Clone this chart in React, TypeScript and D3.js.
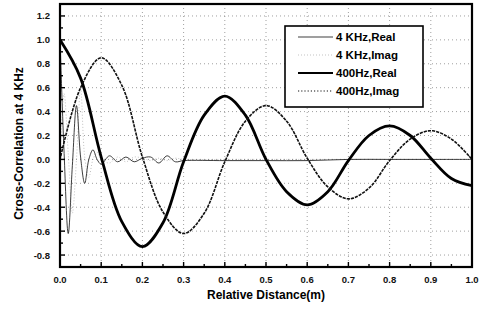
import React from "react";
import * as d3 from "d3";

// 400 Hz curves, read at 0.05 m steps
const dist400 = [0, 0.05, 0.1, 0.15, 0.2, 0.25, 0.3, 0.35, 0.4, 0.45, 0.5, 0.55, 0.6, 0.65, 0.7, 0.75, 0.8, 0.85, 0.9, 0.95, 1.0];
const real400 = [1.0, 0.68, 0.02, -0.52, -0.73, -0.53, -0.02, 0.37, 0.53, 0.37, 0.0, -0.27, -0.38, -0.27, -0.01, 0.2, 0.28, 0.2, 0.01, -0.16, -0.22];
const imag400 = [0.0, 0.6, 0.85, 0.62, 0.02, -0.44, -0.62, -0.45, -0.02, 0.32, 0.45, 0.32, 0.01, -0.23, -0.33, -0.24, -0.01, 0.17, 0.24, 0.17, 0.0];

// 4 KHz curves, fast decaying ripple near the origin
const dist4k = [0, 0.01, 0.02, 0.03, 0.04, 0.05, 0.06, 0.07, 0.08, 0.09, 0.1, 0.12, 0.14, 0.16, 0.18, 0.2, 0.22, 0.24, 0.26, 0.28, 0.3, 0.4, 0.5, 0.6, 0.7, 0.8, 0.9, 1.0];
const real4k = [1.0, 0.05, -0.62, -0.05, 0.45, 0.02, -0.2, 0.0, 0.08, 0.0, -0.04, 0.03, -0.02, 0.02, -0.02, 0.01, 0.02, -0.03, 0.03, -0.02, -0.01, -0.01, -0.01, -0.01, 0.0, 0.0, 0.0, 0.0];
const imag4k = [0.0, 0.55, 0.05, -0.45, 0.0, 0.6, 0.02, -0.15, 0.0, 0.06, 0.0, -0.03, 0.02, -0.02, 0.02, 0.01, -0.01, 0.01, -0.01, 0.01, 0.0, 0.0, 0.0, 0.0, 0.0, 0.0, 0.0, 0.0];

const xTicks = [0, 0.1, 0.2, 0.3, 0.4, 0.5, 0.6, 0.7, 0.8, 0.9, 1.0];
const yTicks = [-0.8, -0.6, -0.4, -0.2, 0.0, 0.2, 0.4, 0.6, 0.8, 1.0, 1.2];
const legendLabels = ["4 KHz,Real", "4 KHz,Imag", "400Hz,Real", "400Hz,Imag"];

const W = 481, H = 312;
const m = { left: 60, right: 9, top: 4, bottom: 45 };
const font = "'Liberation Sans', Arial, sans-serif";

export default function App() {
  const x = d3.scaleLinear().domain([0, 1]).range([m.left, W - m.right]);
  const y = d3.scaleLinear().domain([-0.9, 1.3]).range([H - m.bottom, m.top]);

  const line = d3
    .line<[number, number]>()
    .x((d) => x(d[0]))
    .y((d) => y(d[1]))
    .curve(d3.curveCatmullRom);

  const pts = (xs: number[], ys: number[]) => xs.map((v, i) => [v, ys[i]] as [number, number]);

  const styles = [
    { stroke: "#111", width: 0.9, dash: "none", opacity: 0.9 },
    { stroke: "#555", width: 0.6, dash: "1,2", opacity: 0.6 },
    { stroke: "#000", width: 2.8, dash: "none", opacity: 1 },
    { stroke: "#111", width: 1.6, dash: "1.6,2.6", opacity: 1 },
  ];

  const x0 = m.left, x1 = W - m.right, yTop = m.top, yBot = H - m.bottom;
  const minorX = d3.range(0.05, 1.0, 0.1);
  const minorY = d3.range(-0.9, 1.3, 0.2).map((v) => +v.toFixed(2));

  return (
    <svg width={W} height={H} style={{ position: "absolute", left: 0, top: 0, background: "#fff" }}>
      <rect x={0} y={0} width={W} height={H} fill="#fff" />
      {/* grid */}
      <g stroke="#777" strokeWidth={0.7} strokeDasharray="1,3">
        {xTicks.slice(1, -1).map((t) => (
          <line key={"gx" + t} x1={x(t)} x2={x(t)} y1={yTop} y2={yBot} />
        ))}
        {yTicks.map((t) => (
          <line key={"gy" + t} x1={x0} x2={x1} y1={y(t)} y2={y(t)} />
        ))}
      </g>

      {/* curves */}
      {[pts(dist4k, real4k), pts(dist4k, imag4k), pts(dist400, real400), pts(dist400, imag400)].map((d, i) => (
        <path
          key={"s" + i}
          d={line(d) || ""}
          fill="none"
          stroke={styles[i].stroke}
          strokeWidth={styles[i].width}
          strokeDasharray={styles[i].dash}
          strokeOpacity={styles[i].opacity}
          strokeLinecap={i === 3 ? "square" : "butt"}
        />
      ))}

      {/* ticks */}
      <g stroke="#000" strokeWidth={1.4}>
        {xTicks.map((t) => (
          <line key={"tx" + t} x1={x(t)} x2={x(t)} y1={yBot} y2={yBot - 5} />
        ))}
        {minorX.map((t) => (
          <line key={"mx" + t} x1={x(t)} x2={x(t)} y1={yBot} y2={yBot - 3} />
        ))}
        {yTicks.map((t) => (
          <line key={"ty" + t} x1={x0} x2={x0 + 5} y1={y(t)} y2={y(t)} />
        ))}
        {minorY.map((t) => (
          <line key={"my" + t} x1={x0} x2={x0 + 3} y1={y(t)} y2={y(t)} />
        ))}
      </g>

      {/* frame */}
      <rect x={x0} y={yTop} width={x1 - x0} height={yBot - yTop} fill="none" stroke="#000" strokeWidth={2.2} />

      {/* tick labels */}
      <g fontFamily={font} fontWeight="bold" fontSize={9.5} fill="#111">
        {xTicks.map((t) => (
          <text key={"lx" + t} x={x(t)} y={yBot + 16} textAnchor="middle">
            {d3.format(".1f")(t)}
          </text>
        ))}
        {yTicks.map((t) => (
          <text key={"ly" + t} x={x0 - 10} y={y(t) + 3.5} textAnchor="end">
            {d3.format(".1f")(t).replace("−", "-")}
          </text>
        ))}
      </g>

      {/* axis titles */}
      <text x={(x0 + x1) / 2} y={299} textAnchor="middle" fontFamily={font} fontWeight="bold" fontSize={12}>
        Relative Distance(m)
      </text>
      <text
        transform={`translate(23,${(yTop + yBot) / 2 + 8}) rotate(-90)`}
        textAnchor="middle"
        fontFamily={font}
        fontWeight="bold"
        fontSize={12}
      >
        Cross-Correlation at 4 KHz
      </text>

      {/* legend */}
      <g>
        <rect x={285} y={26} width={138} height={81} fill="#fff" stroke="#000" strokeWidth={1.6} />
        {legendLabels.map((lab, i) => {
          const ly = 37 + i * 18;
          return (
            <g key={lab}>
              <line
                x1={298}
                x2={333}
                y1={ly}
                y2={ly}
                stroke={styles[i].stroke}
                strokeWidth={i === 2 ? 2.2 : i === 3 ? 1.2 : styles[i].width}
                strokeDasharray={i === 3 ? "1.2,2" : styles[i].dash}
                strokeOpacity={styles[i].opacity}
              />
              <text x={336} y={ly + 4} fontFamily={font} fontWeight="bold" fontSize={11.5}>
                {lab}
              </text>
            </g>
          );
        })}
      </g>
    </svg>
  );
}
